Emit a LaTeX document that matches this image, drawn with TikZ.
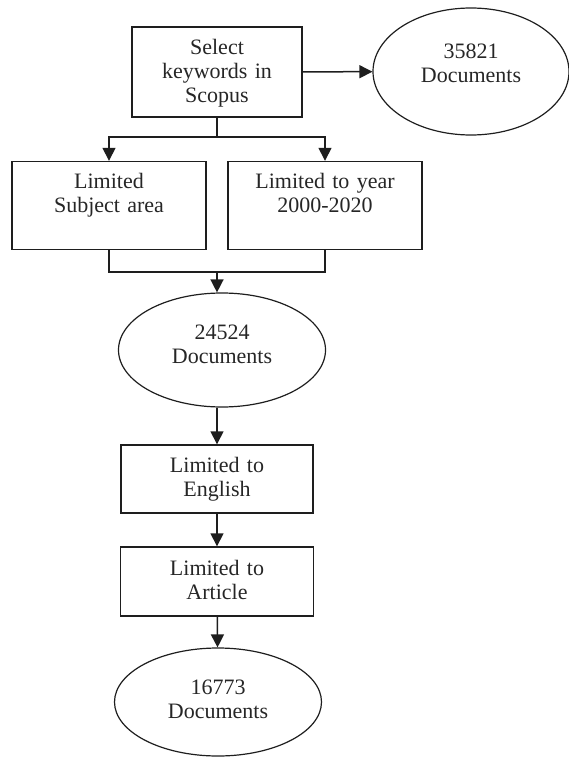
\documentclass[tikz,border=0pt]{standalone}
\usepackage{fontspec}
\setmainfont{Liberation Serif}
\usetikzlibrary{arrows.meta,shapes.geometric}
\definecolor{edge}{HTML}{1E1E1E}
\definecolor{txt}{HTML}{262626}
\begin{document}
\begin{tikzpicture}[x=1pt, y=-1pt,
  font=\fontsize{22}{24}\selectfont,
  every node/.style={text=txt, inner sep=0pt, align=center},
  box/.style={draw=edge, line width=1.4pt},
  oval/.style={draw=edge, line width=1.2pt, ellipse, text width=110pt, text height=15pt},
  link/.style={draw=edge, line width=1.5pt},
  arr/.style={link, -{Triangle[length=13pt,width=13pt]}}]
\useasboundingbox (0,0) rectangle (569,757);
% search steps
\node[box, text width=170pt, text height=28pt, text depth=62pt] (sel) at (217,72) {Select\\keywords in\\Scopus};
\node[oval, minimum width=196pt, minimum height=127pt, text depth=40pt] (docA) at (471,71.5) {35821\\Documents};
\node[box, text width=194pt, text height=27pt, text depth=61pt] (subj) at (109,205.5) {Limited\\Subject area};
\node[box, text width=194pt, text height=27pt, text depth=61pt] (year) at (325,205.5) {Limited to year\\2000-2020};
\node[oval, minimum width=207pt, minimum height=114pt, text depth=37pt] (docB) at (222,350) {24524\\Documents};
\node[box, text width=192pt, text height=27pt, text depth=41pt] (eng) at (217,479) {Limited to\\English};
\node[box, text width=193pt, text height=28pt, text depth=41pt] (art) at (217,581.5) {Limited to\\Article};
\node[oval, minimum width=207pt, minimum height=108pt, text depth=31pt] (docC) at (218,702) {16773\\Documents};
% connectors
\coordinate (split) at (217,137);
\coordinate (merge) at (217,272);
\draw[arr] (sel) -- (docA);
\draw[link] (sel) -- (split);
\draw[arr] (split) -| (subj);
\draw[arr] (split) -| (year);
\draw[link] (subj) |- (merge) -| (year);
\draw[arr] (merge) -- (merge |- docB.north);
\draw[arr] (docB.south -| eng) -- (eng);
\draw[arr] (eng) -- (art);
\draw[arr] (art) -- (docC);
\end{tikzpicture}
\end{document}
